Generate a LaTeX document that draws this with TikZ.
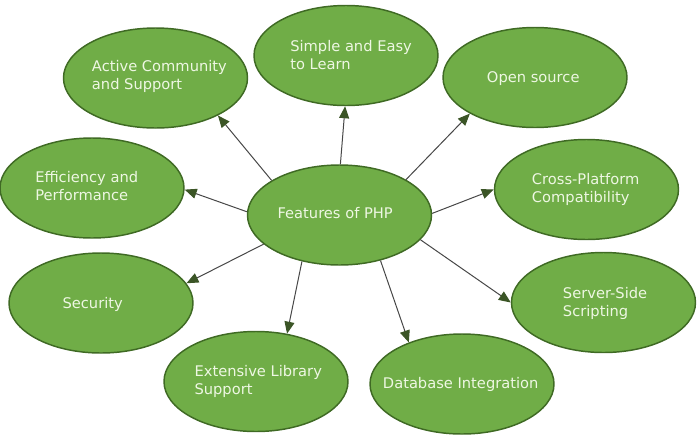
\documentclass[tikz,border=0pt]{standalone}
\usepackage{fontspec}
\setmainfont{DejaVu Sans}
\usetikzlibrary{shapes.geometric,arrows.meta}
\definecolor{featfill}{HTML}{70AD47}
\definecolor{featdraw}{HTML}{3F6A24}
\definecolor{feattext}{HTML}{EEF7E3}
\definecolor{linkcol}{HTML}{474747}
\definecolor{tipcol}{HTML}{3B5526}
\tikzset{
  feat/.style={ellipse, draw=featdraw, fill=featfill, line width=1.1pt,
    minimum width=138pt, minimum height=75pt, inner sep=0pt},
  lbl/.style={text=feattext, font=\fontsize{11pt}{13.5pt}\selectfont, align=left,
    inner sep=0pt, anchor=west, execute at begin node=\strut, execute at end node=\strut},
  link/.style={draw=linkcol, line width=0.75pt,
    -{Triangle[length=9pt,width=7.5pt,fill=tipcol,color=tipcol]}}
}
\begin{document}
\begin{tikzpicture}[x=0.75pt,y=-0.75pt]
\useasboundingbox (0,0) rectangle (699,447);
\node[feat] (php) at (339.5,215) {};
\node[feat] (act) at (155.5,78) {};
\node[feat] (sim) at (346,55.5) {};
\node[feat] (ope) at (535,77.5) {};
\node[feat] (eff) at (92,188) {};
\node[feat] (cro) at (586.5,189.5) {};
\node[feat] (sec) at (101,303) {};
\node[feat] (srv) at (603.5,302.5) {};
\node[feat] (ext) at (256,381.5) {};
\node[feat] (dbi) at (462,384) {};

\node[lbl] (tphp) at (277.3,214.5) {Features of PHP};
\node[lbl] (tact) at (91.7,77.7) {Active Community\\and Support};
\node[lbl] (tsim) at (290,57.2) {Simple and Easy\\to Learn};
\node[lbl] (tope) at (486.7,78.4) {Open source};
\node[lbl] (teff) at (35,188.4) {Efficiency and\\Performance};
\node[lbl] (tcro) at (531.7,190.5) {Cross-Platform\\Compatibility};
\node[lbl] (tsec) at (62.3,305) {Security};
\node[lbl] (tsrv) at (562.7,304.2) {Server-Side\\Scripting};
\node[lbl] (text) at (194.3,382.5) {Extensive Library\\Support};
\node[lbl] (tdbi) at (382.7,384.4) {Database Integration};

\draw[link] (php.153.6) -- (act.329.6);
\draw[link] (php.89) -- (sim.269);
\draw[link] (php.28.1) -- (ope.209.5);
\draw[link] (php.1) -- (cro.180);
\draw[link] (php.178.8) -- (eff.359);
\draw[link] (php.201.2) -- (sec.13.6);
\draw[link] (php.231.7) -- (ext.57.4);
\draw[link] (php.343.3) -- (srv.180);
\draw[link] (php.312.8) -- (dbi.142.8);
\end{tikzpicture}
\end{document}
